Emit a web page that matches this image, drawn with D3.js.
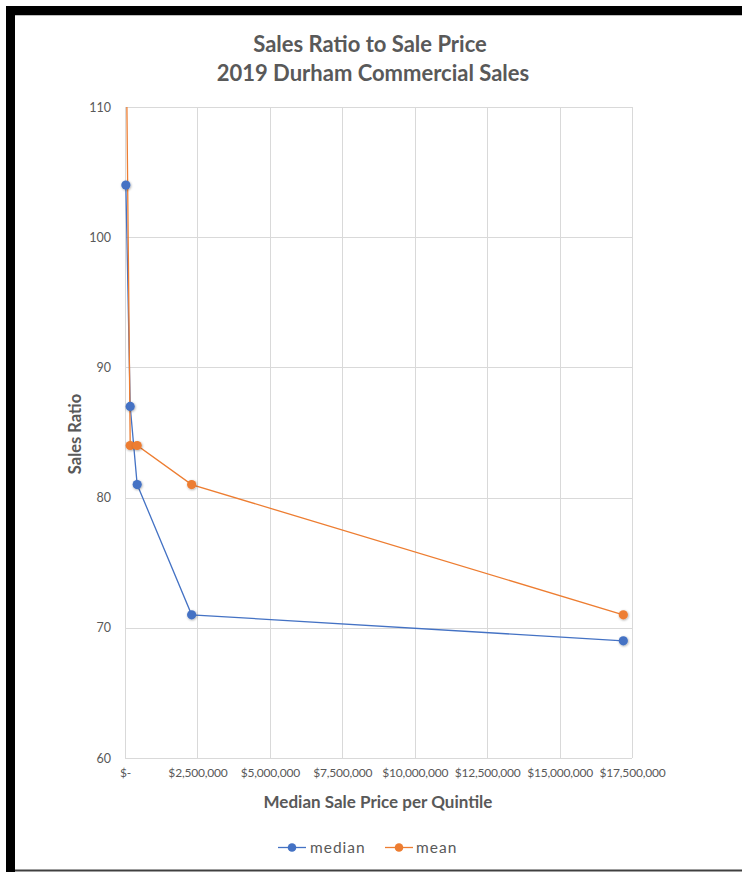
<!DOCTYPE html>
<html>
<head>
<meta charset="utf-8">
<script src="https://cdn.jsdelivr.net/npm/d3@7"></script>
<style>
  html, body { margin: 0; padding: 0; background: #fff; }
  svg { display: block; }
  text { font-family: Lato, "Liberation Sans", sans-serif; fill: #595959; }
</style>
</head>
<body>
<svg id="chart" width="742" height="872"></svg>
<script>
// Median sale price of each quintile (x) and sales ratio per quintile
const prices      = [30000, 180000, 420000, 2300000, 17200000];
const medianRatio = [104, 87, 81, 71, 69];
const meanRatio   = [118, 84, 84, 81, 71];
const seriesNames = ["median", "mean"];
const seriesColors = ["#4472C4", "#ED7D31"];
const yTicks = [60, 70, 80, 90, 100, 110];
const xTicks = [0, 2500000, 5000000, 7500000, 10000000, 12500000, 15000000, 17500000];

const svg = d3.select("#chart");

// Outer frame: black band across the top and down the left side, thin line at the bottom
svg.append("rect").attr("x", 6).attr("y", 6).attr("width", 736).attr("height", 9).attr("fill", "#000");
svg.append("rect").attr("x", 6).attr("y", 6).attr("width", 9).attr("height", 866).attr("fill", "#000");
svg.append("line").attr("x1", 15).attr("x2", 742).attr("y1", 15.5).attr("y2", 15.5).attr("stroke", "#bfbfbf");
svg.append("line").attr("x1", 15).attr("x2", 742).attr("y1", 870.5).attr("y2", 870.5).attr("stroke", "#404040").attr("stroke-width", 2);

const plot = { left: 125, right: 632, top: 107, bottom: 758 };
const x = d3.scaleLinear().domain([0, 17500000]).range([plot.left, plot.right]);
const y = d3.scaleLinear().domain([60, 110]).range([plot.bottom, plot.top]);

// Title
const title = svg.append("text").attr("text-anchor", "middle")
  .attr("font-size", 22).attr("font-weight", "bold");
title.append("tspan").attr("x", 370).attr("y", 52).text("Sales Ratio to Sale Price");
title.append("tspan").attr("x", 373).attr("y", 81).text("2019 Durham Commercial Sales");

// Gridlines
const grid = svg.append("g");
grid.selectAll(".hg").data(yTicks).join("line")
  .attr("x1", plot.left).attr("x2", plot.right)
  .attr("y1", d => Math.round(y(d)) + 0.5).attr("y2", d => Math.round(y(d)) + 0.5)
  .attr("stroke", "#d9d9d9");
grid.selectAll(".vg").data(xTicks).join("line")
  .attr("y1", plot.top).attr("y2", plot.bottom)
  .attr("x1", d => Math.round(x(d)) + 0.5).attr("x2", d => Math.round(x(d)) + 0.5)
  .attr("stroke", "#d9d9d9");

// Axes (labels only; lines come from the grid)
const fmtPrice = d => d === 0 ? "$-" : "$" + d3.format(",")(d);
const yAxis = svg.append("g").attr("transform", `translate(${plot.left - 14},0)`)
  .call(d3.axisLeft(y).tickValues(yTicks).tickSize(0).tickPadding(0));
const xAxis = svg.append("g").attr("transform", `translate(0,${plot.bottom + 10})`)
  .call(d3.axisBottom(x).tickValues(xTicks).tickFormat(fmtPrice).tickSize(0).tickPadding(0));
[yAxis, xAxis].forEach(a => {
  a.select(".domain").remove();
  a.selectAll("text").attr("font-family", "Lato, sans-serif").attr("font-size", 12.5).attr("fill", "#595959");
});
xAxis.selectAll("text").attr("font-size", 12).attr("dy", "0.71em").attr("letter-spacing", "-0.2");

// Axis titles
svg.append("text").attr("x", 378).attr("y", 808).attr("text-anchor", "middle")
  .attr("font-size", 17).attr("font-weight", "bold").text("Median Sale Price per Quintile");
svg.append("text").attr("transform", "translate(81,434) rotate(-90)").attr("text-anchor", "middle")
  .attr("font-size", 16.5).attr("font-weight", "bold").text("Sales Ratio");

// Clip lines to the plot area
const defs = svg.append("defs");
defs.append("clipPath").attr("id", "plotClip")
  .append("rect").attr("x", plot.left - 6).attr("y", plot.top).attr("width", plot.right - plot.left + 12).attr("height", plot.bottom - plot.top);

const shadow = defs.append("filter").attr("id", "dotShadow").attr("x", "-50%").attr("y", "-50%").attr("width", "200%").attr("height", "200%");
shadow.append("feDropShadow").attr("dx", 0.6).attr("dy", 0.8).attr("stdDeviation", 0.8).attr("flood-color", "#000").attr("flood-opacity", 0.35);

const series = [medianRatio, meanRatio];
const line = d3.line().x((d, i) => x(prices[i])).y(d => y(d));
const seriesG = svg.append("g").attr("clip-path", "url(#plotClip)");
series.forEach((vals, s) => {
  seriesG.append("path").datum(vals)
    .attr("d", line).attr("fill", "none")
    .attr("stroke", seriesColors[s]).attr("stroke-width", 1.3);
});
series.forEach((vals, s) => {
  seriesG.selectAll(".dot" + s).data(vals).join("circle")
    .attr("cx", (d, i) => x(prices[i])).attr("cy", d => y(d)).attr("r", 4.6)
    .attr("fill", seriesColors[s]).attr("filter", "url(#dotShadow)");
});

// Legend
const legendItems = [{ x: 278, w: 28, tx: 310 }, { x: 385, w: 28, tx: 416 }];
const legend = svg.append("g");
legendItems.forEach((it, s) => {
  legend.append("line").attr("x1", it.x).attr("x2", it.x + it.w).attr("y1", 847.5).attr("y2", 847.5)
    .attr("stroke", seriesColors[s]).attr("stroke-width", 1.3);
  legend.append("circle").attr("cx", it.x + it.w / 2).attr("cy", 847.5).attr("r", 4.3).attr("fill", seriesColors[s]);
  legend.append("text").attr("x", it.tx).attr("y", 853).attr("font-size", 15.5).attr("letter-spacing", "1")
    .text(seriesNames[s]);
});
</script>
</body>
</html>
